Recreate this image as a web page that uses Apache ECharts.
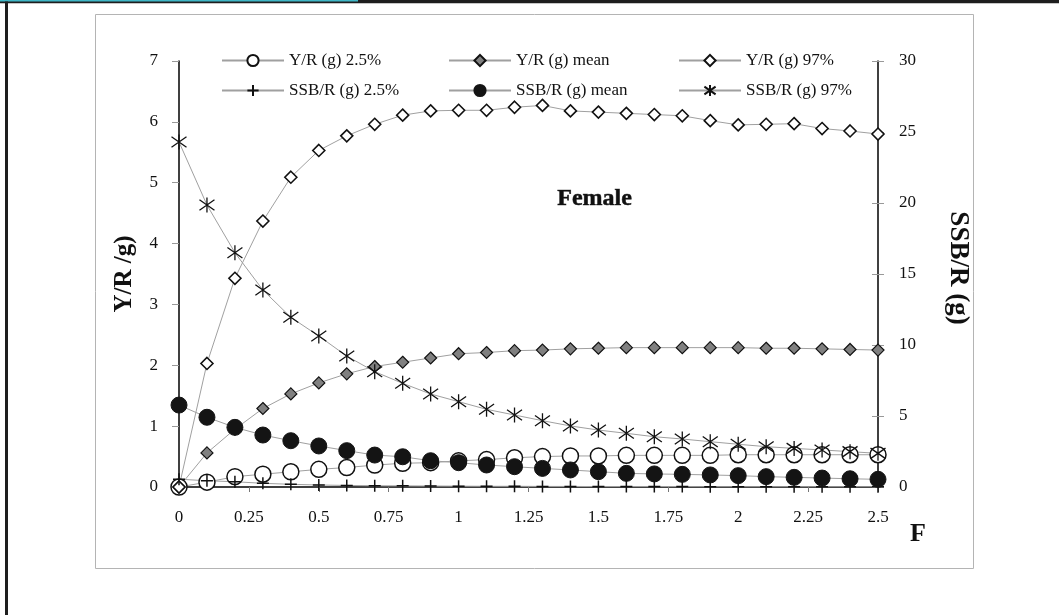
<!DOCTYPE html>
<html><head><meta charset="utf-8">
<script src="https://cdn.jsdelivr.net/npm/echarts@6/dist/echarts.min.js"></script>
<style>html,body{margin:0;padding:0;background:#fff}#c{width:1059px;height:615px}</style>
</head><body><div id="c"></div>
<script>
// Fishing mortality F (x axis)
const fValues = [0, 0.1, 0.2, 0.3, 0.4, 0.5, 0.6, 0.7, 0.8, 0.9, 1.0, 1.1, 1.2, 1.3, 1.4, 1.5, 1.6, 1.7, 1.8, 1.9, 2.0, 2.1, 2.2, 2.3, 2.4, 2.5];
// Left axis: Y/R (g)
const yr25 = [0, 0.08, 0.17, 0.21, 0.25, 0.29, 0.32, 0.36, 0.39, 0.40, 0.43, 0.45, 0.48, 0.50, 0.51, 0.51, 0.52, 0.52, 0.52, 0.52, 0.53, 0.53, 0.53, 0.53, 0.53, 0.53];
const yrMean = [0, 0.56, 0.95, 1.29, 1.53, 1.71, 1.86, 1.98, 2.05, 2.12, 2.19, 2.21, 2.24, 2.25, 2.27, 2.28, 2.29, 2.29, 2.29, 2.29, 2.29, 2.28, 2.28, 2.27, 2.26, 2.25];
const yr97 = [0, 2.03, 3.43, 4.37, 5.09, 5.53, 5.77, 5.96, 6.11, 6.18, 6.19, 6.19, 6.24, 6.27, 6.18, 6.16, 6.14, 6.12, 6.10, 6.02, 5.95, 5.96, 5.97, 5.89, 5.85, 5.80];
// Right axis: SSB/R (g)
const ssb25 = [0.55, 0.44, 0.37, 0.26, 0.19, 0.14, 0.11, 0.09, 0.08, 0.07, 0.06, 0.05, 0.05, 0.04, 0.04, 0.03, 0.03, 0.03, 0.03, 0.02, 0.02, 0.02, 0.02, 0.02, 0.02, 0.02];
const ssbMean = [5.77, 4.91, 4.20, 3.66, 3.26, 2.89, 2.56, 2.25, 2.13, 1.85, 1.71, 1.55, 1.43, 1.31, 1.20, 1.08, 0.96, 0.92, 0.89, 0.85, 0.80, 0.73, 0.68, 0.63, 0.58, 0.54];
const ssb97 = [24.3, 19.86, 16.5, 13.87, 11.95, 10.63, 9.22, 8.12, 7.30, 6.55, 6.01, 5.47, 5.07, 4.67, 4.30, 4.01, 3.78, 3.54, 3.38, 3.19, 3.01, 2.84, 2.72, 2.61, 2.49, 2.37];

const names = ['Y/R (g) 2.5%', 'Y/R (g) mean', 'Y/R (g) 97%', 'SSB/R (g) 2.5%', 'SSB/R (g) mean', 'SSB/R (g) 97%'];
const yLeftName = 'Y/R /g)';
const yRightName = 'SSB/R (g)';
const xName = 'F';
const panelLabel = 'Female';

const FONT = '"Liberation Serif", "Times New Roman", serif';
const pair = a => a.map((v, i) => [fValues[i], v]);
const lineStyle = { color: '#a0a0a0', width: 1 };
const PLUS = 'path://M5,0 L5,10 M0,5 L10,5';
const STAR = 'path://M5,0 L5,10 M0,1.5 L10,8.5 M10,1.5 L0,8.5';

const chart = echarts.init(document.getElementById('c'), null, { renderer: 'canvas' });
const labelStyle = { color: '#111', fontFamily: FONT, fontSize: 17 };
const legendBase = {
  orient: 'vertical', top: 47, itemWidth: 62, itemHeight: 14, itemGap: 13,
  textStyle: { color: '#111', fontFamily: FONT, fontSize: 17 }
};
chart.setOption({
  animation: false,
  backgroundColor: '#fff',
  textStyle: { fontFamily: FONT },
  grid: { left: 179, right: 181, top: 61, bottom: 128, containLabel: false },
  legend: [
    Object.assign({}, legendBase, { left: 216, data: [names[0], names[3]] }),
    Object.assign({}, legendBase, { left: 443, data: [names[1], names[4]] }),
    Object.assign({}, legendBase, { left: 673, data: [names[2], names[5]] })
  ],
  xAxis: {
    type: 'value', min: 0, max: 2.5, interval: 0.25,
    axisLine: { show: true, onZero: false, lineStyle: { color: '#000', width: 1.5 } },
    axisTick: { show: true, length: 5, lineStyle: { color: '#777' } },
    axisLabel: Object.assign({ margin: 22 }, labelStyle),
    splitLine: { show: false }
  },
  yAxis: [
    {
      type: 'value', min: 0, max: 7, interval: 1, position: 'left',
      axisLine: { show: true, lineStyle: { color: '#000', width: 1.5 } },
      axisTick: { show: true, length: 7, lineStyle: { color: '#999' } },
      axisLabel: Object.assign({ margin: 21 }, labelStyle),
      splitLine: { show: false },
      name: yLeftName, nameLocation: 'middle', nameRotate: 90, nameGap: 42,
      nameTextStyle: { color: '#111', fontFamily: FONT, fontSize: 25, fontWeight: 'bold' }
    },
    {
      type: 'value', min: 0, max: 30, interval: 5, position: 'right',
      axisLine: { show: true, lineStyle: { color: '#000', width: 1.5 } },
      axisTick: { show: true, length: 6, lineStyle: { color: '#999' } },
      axisLabel: Object.assign({ margin: 21 }, labelStyle),
      splitLine: { show: false }
    },
    {
      type: 'value', min: 0, max: 30, interval: 5, position: 'right',
      axisLine: { show: false },
      axisTick: { show: true, inside: true, length: 6, lineStyle: { color: '#999' } },
      axisLabel: { show: false }, splitLine: { show: false }
    }
  ],
  series: [
    { name: names[0], type: 'line', yAxisIndex: 0, data: pair(yr25), symbol: 'circle', symbolSize: 16,
      lineStyle, itemStyle: { color: '#fff', borderColor: '#111', borderWidth: 1.5 } },
    { name: names[1], type: 'line', yAxisIndex: 0, data: pair(yrMean), symbol: 'diamond', symbolSize: 12,
      lineStyle, itemStyle: { color: '#808080', borderColor: '#111', borderWidth: 1.2 } },
    { name: names[2], type: 'line', yAxisIndex: 0, data: pair(yr97), symbol: 'diamond', symbolSize: 12,
      lineStyle, itemStyle: { color: '#fff', borderColor: '#111', borderWidth: 1.6 } },
    { name: names[3], type: 'line', yAxisIndex: 1, data: pair(ssb25), symbol: PLUS, symbolSize: 12,
      lineStyle, itemStyle: { color: 'rgba(0,0,0,0)', borderColor: '#111', borderWidth: 1.5 } },
    { name: names[4], type: 'line', yAxisIndex: 1, data: pair(ssbMean), symbol: 'circle', symbolSize: 16,
      lineStyle, itemStyle: { color: '#141414', borderColor: '#141414', borderWidth: 1 } },
    { name: names[5], type: 'line', yAxisIndex: 1, data: pair(ssb97), symbol: STAR, symbolSize: 15,
      lineStyle, itemStyle: { color: 'rgba(0,0,0,0)', borderColor: '#111', borderWidth: 1.3 } }
  ],
  graphic: [
    { type: 'rect', z: -1, shape: { x: 95.5, y: 14.5, width: 878, height: 554 },
      style: { fill: 'none', stroke: '#b4b4b4', lineWidth: 1 } },
    { type: 'rect', shape: { x: 0, y: 0, width: 1059, height: 3.3 }, style: { fill: '#1e1e1e' } },
    { type: 'rect', shape: { x: 0, y: 0, width: 358, height: 1.4 }, style: { fill: '#3fb6c6' } },
    { type: 'rect', shape: { x: 5, y: 1.4, width: 3, height: 614 }, style: { fill: '#1e1e1e' } },
    { type: 'text', x: 958, y: 268, rotation: -Math.PI / 2,
      style: { text: yRightName, fill: '#111', font: 'bold 27px ' + FONT, align: 'center', verticalAlign: 'middle' } },
    { type: 'text', left: 910, top: 521,
      style: { text: xName, fill: '#111', font: 'bold 26px ' + FONT } },
    { type: 'text', left: 557, top: 186,
      style: { text: panelLabel, fill: '#111', font: 'bold 24px ' + FONT,
               stroke: '#444', lineWidth: 0.6, textShadowColor: '#999', textShadowOffsetX: 1.2, textShadowOffsetY: 1.2, textShadowBlur: 0 } }
  ]
});
</script></body></html>
